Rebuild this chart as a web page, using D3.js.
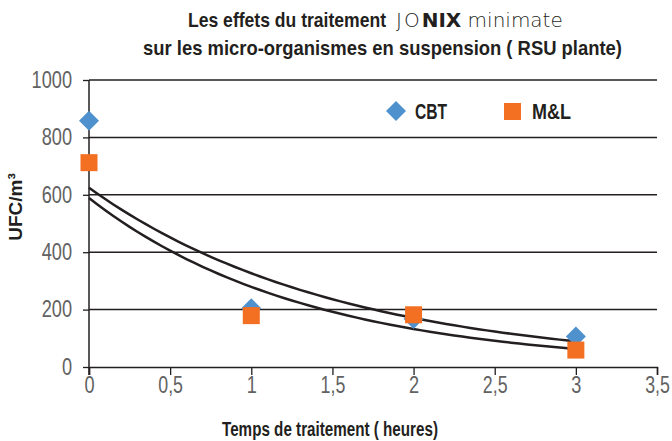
<!DOCTYPE html>
<html>
<head>
<meta charset="utf-8">
<script src="https://cdn.jsdelivr.net/npm/d3@7"></script>
<style>
  body { margin: 0; background: #fff; }
  svg text { font-family: "Liberation Sans", Arial, sans-serif; }
</style>
</head>
<body>
<div></div>
<script>
var width = 672, height = 441;

// data
var hours = [0, 1, 2, 3];
var cbt = [858, 205, 167, 106];
var ml = [712, 179, 182, 59];
var xTicks = [0, 0.5, 1, 1.5, 2, 2.5, 3, 3.5];
var yTicks = [0, 200, 400, 600, 800, 1000];

var svg = d3.select("div").append("svg")
    .attr("width", width)
    .attr("height", height);

var x = d3.scaleLinear().domain([0, 3.5]).range([89, 657]);
var y = d3.scaleLinear().domain([0, 1000]).range([367, 80]);

var ink = "#231f20";

// exponential trendline (least squares on log values), like excel
function expFit(xs, ys) {
  var ly = ys.map(function(v) { return Math.log(v); });
  var mx = d3.mean(xs), my = d3.mean(ly);
  var sxy = 0, sxx = 0;
  for (var i = 0; i < xs.length; i++) {
    sxy += (xs[i] - mx) * (ly[i] - my);
    sxx += (xs[i] - mx) * (xs[i] - mx);
  }
  var b = sxy / sxx, a = Math.exp(my - b * mx);
  return function(t) { return a * Math.exp(b * t); };
}

// the chart uses a condensed font, squeeze text to its measured width
function narrow(sel, perChar) {
  sel.attr("lengthAdjust", "spacingAndGlyphs")
    .attr("textLength", function() {
      var s = this.textContent, w = 0;
      for (var i = 0; i < s.length; i++) w += (s[i] === "," ? 4.5 : perChar);
      return w;
    });
}

function label(xp, yp, str, w, size) {
  return svg.append("text")
      .attr("x", xp).attr("y", yp)
      .attr("textLength", w)
      .attr("lengthAdjust", "spacingAndGlyphs")
      .style("font-size", size + "px")
      .style("font-weight", "bold")
      .style("fill", ink)
      .text(str);
}

// gridlines
svg.append("g")
  .selectAll("line")
  .data(yTicks.slice(1))
  .enter().append("line")
    .attr("x1", x(0)).attr("x2", x(3.5))
    .attr("y1", function(d) { return y(d); })
    .attr("y2", function(d) { return y(d); })
    .style("stroke", ink)
    .style("stroke-width", 1.5);

// y axis
var yAxis = svg.append("g")
    .attr("transform", "translate(" + x(0) + ",0)")
    .call(d3.axisLeft(y).tickValues(yTicks).tickSize(6).tickPadding(11)
      .tickFormat(function(d) { return String(d); }));

// x axis
var xAxis = svg.append("g")
    .attr("transform", "translate(0," + y(0) + ")")
    .call(d3.axisBottom(x).tickValues(xTicks).tickSize(8).tickPadding(2)
      .tickFormat(function(d) { return String(d).replace(".", ","); }));

[yAxis, xAxis].forEach(function(g) {
  g.select(".domain").style("stroke", ink).style("stroke-width", 1.5);
  g.selectAll(".tick line").style("stroke", ink).style("stroke-width", 1.3);
  g.selectAll("text")
    .style("font-size", "23px")
    .style("fill", "#626262")
    .style("font-family", "'Liberation Sans', sans-serif")
    .call(narrow, 10.1);
});
yAxis.select(".domain").attr("d", "M0," + (y(0) + 8) + "V" + y(1000));

// trendlines
var fits = [expFit(hours, cbt), expFit(hours, ml)];
var line = d3.line()
    .x(function(d) { return x(d[0]); })
    .y(function(d) { return y(d[1]); });

fits.forEach(function(f) {
  var pts = d3.range(0, 3.001, 0.05).map(function(t) { return [t, f(t)]; });
  svg.append("path")
      .attr("d", line(pts))
      .style("fill", "none")
      .style("stroke", ink)
      .style("stroke-width", 2.5);
});

var diamond = d3.symbol().type(d3.symbolSquare).size(200);

// CBT diamonds
svg.append("g")
  .selectAll("path")
  .data(cbt)
  .enter().append("path")
    .attr("d", diamond)
    .attr("transform", function(d, i) {
      return "translate(" + x(hours[i]) + "," + y(d) + ") rotate(45)";
    })
    .style("fill", "#4f91cd");

// M&L squares
svg.append("g")
  .selectAll("rect")
  .data(ml)
  .enter().append("rect")
    .attr("x", function(d, i) { return x(hours[i]) - 8.5; })
    .attr("y", function(d) { return y(d) - 8.5; })
    .attr("width", 17)
    .attr("height", 17)
    .style("fill", "#f36f21");

// legend
svg.append("path")
    .attr("d", diamond)
    .attr("transform", "translate(396,111) rotate(45)")
    .style("fill", "#4f91cd");
label(415, 119, "CBT", 32, 22);
svg.append("rect")
    .attr("x", 504).attr("y", 103).attr("width", 17).attr("height", 17)
    .style("fill", "#f36f21");
label(532, 119, "M&L", 39, 22);

// title
label(188, 27, "Les effets du traitement", 198, 21);
var brand = svg.append("text")
    .attr("x", 396).attr("y", 27)
    .style("font-family", "'DejaVu Sans', sans-serif")
    .style("font-size", "20px")
    .style("fill", ink);
brand.append("tspan").style("font-weight", "200").style("letter-spacing", "2px").text("JO");
brand.append("tspan").style("font-weight", "bold").text("NIX");
brand.append("tspan").style("font-weight", "200").text(" minimate");
label(143, 55, "sur les micro-organismes en suspension ( RSU plante)", 479, 21);

// axis titles
label(222, 436, "Temps de traitement ( heures)", 216, 20);

svg.append("text")
    .attr("transform", "translate(22,207) rotate(-90)")
    .attr("text-anchor", "middle")
    .style("font-size", "19px").style("font-weight", "bold").style("fill", ink)
    .text("UFC/m³");
</script>
</body>
</html>
